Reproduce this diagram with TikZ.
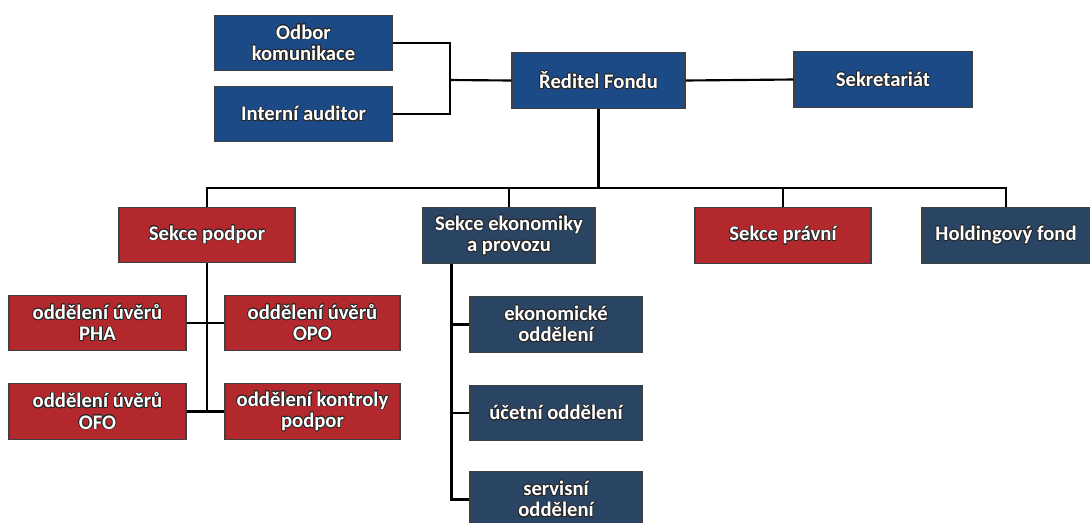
\documentclass[tikz,border=0pt]{standalone}
\usepackage{fontspec}
\setmainfont{Carlito}
\usepackage{contour}
\contourlength{0.55pt}
\newcommand{\ct}[1]{\contour{black!85}{#1}}
\begin{document}
\begin{tikzpicture}[x=0.75pt,y=-0.75pt,
  box/.style={draw=black!75,line width=0.8pt,text=white,font=\bfseries\fontsize{15.5}{16}\selectfont,
    align=center,inner sep=0pt,minimum width=#1*0.75pt,minimum height=41.5pt},
  topblue/.style={box=#1,fill={rgb,255:red,28;green,74;blue,135}},
  slate/.style={box=#1,fill={rgb,255:red,42;green,69;blue,99}},
  redbox/.style={box=#1,fill={rgb,255:red,178;green,40;blue,45}},
  conn/.style={line width=1.6pt,black}]
\useasboundingbox (0,0) rectangle (1090,522);
\fill[white] (0,0) rectangle (1090,522);
% top
\node[topblue=177] (odbor) at (303.5,43) {\ct{Odbor}\\\ct{komunikace}};
\node[topblue=177] (interni) at (303.5,114) {\ct{Interní auditor}};
\node[topblue=173] (reditel) at (598.5,80.5) {\ct{Ředitel Fondu}};
\node[topblue=178] (sekret) at (883,79.5) {\ct{Sekretariát}};
% sections
\node[redbox=176] (podpor) at (207,235) {\ct{Sekce podpor}};
\node[slate=172] (ekon) at (509,235.5) {\ct{Sekce ekonomiky}\\\ct{a provozu}};
\node[redbox=176] (pravni) at (783,235.5) {\ct{Sekce právní}};
\node[slate=168] (holding) at (1006,235.5) {\ct{Holdingový fond}};
% podpor departments
\node[redbox=177] (pha) at (97.5,323) {\ct{oddělení úvěrů}\\\ct{PHA}};
\node[redbox=175] (opo) at (312.5,323) {\ct{oddělení úvěrů}\\\ct{OPO}};
\node[redbox=177] (ofo) at (97.5,411.5) {\ct{oddělení úvěrů}\\\ct{OFO}};
\node[redbox=175] (kontrol) at (312.5,411.5) {\ct{oddělení kontroly}\\\ct{podpor}};
% ekonomika departments
\node[slate=172] (ekodd) at (556,324.5) {\ct{ekonomické}\\\ct{oddělení}};
\node[slate=172] (ucet) at (556,413) {\ct{účetní oddělení}};
\node[slate=172] (serv) at (556,499.5) {\ct{servisní}\\\ct{oddělení}};
% connectors
\coordinate (j1) at (450,80);
\draw[conn] (odbor.east) -| (j1) |- (interni.east);
\draw[conn] (j1) -- (reditel.west);
\draw[conn] (reditel.east) -- (sekret.west);
\coordinate (bus) at (598.5,188);
\draw[conn] (reditel.south) -- (bus);
\draw[conn] (podpor.north) |- (bus) -| (holding.north);
\draw[conn] (ekon.north) -- (ekon.north |- bus);
\draw[conn] (pravni.north) -- (pravni.north |- bus);
\draw[conn] (podpor.south) -- (podpor.south |- ofo.east);
\draw[conn] (pha.east) -- (opo.west);
\draw[conn] (ofo.east) -- (kontrol.west);
\coordinate (ev) at ([xshift=21.75pt]ekon.south west);
\draw[conn] (ev) |- (serv.west);
\draw[conn] (ev |- ekodd.west) -- (ekodd.west);
\draw[conn] (ev |- ucet.west) -- (ucet.west);
\end{tikzpicture}
\end{document}
